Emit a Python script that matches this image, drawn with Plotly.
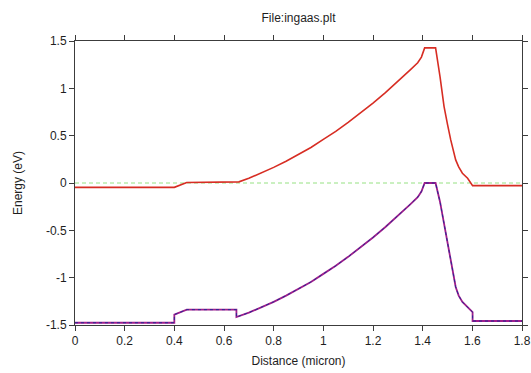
import plotly.graph_objects as go

# Conduction band (red)
cb_x = [0.0, 0.40, 0.45, 0.65, 0.66, 0.70, 0.75, 0.80, 0.85, 0.90, 0.95, 1.00, 1.05, 1.10, 1.15, 1.20, 1.25, 1.30, 1.35, 1.38, 1.395, 1.408,
        1.452, 1.470, 1.486, 1.500, 1.513, 1.533, 1.545, 1.560, 1.581, 1.601, 1.8]
cb_y = [-0.046, -0.046, 0.006, 0.006, 0.012, 0.05, 0.105, 0.165, 0.23, 0.30, 0.375, 0.46, 0.545, 0.64, 0.74, 0.845, 0.955, 1.07, 1.195, 1.27, 1.33, 1.427,
        1.427, 1.12, 0.81, 0.62, 0.455, 0.244, 0.17, 0.103, 0.05, -0.028, -0.028]

# Valence band (purple solid + blue dashed overlay)
vb_x = [0.0, 0.40, 0.40, 0.45, 0.65, 0.65, 0.70, 0.75, 0.80, 0.85, 0.90, 0.95, 1.00, 1.05, 1.10, 1.15, 1.20, 1.25, 1.30, 1.35, 1.38, 1.395, 1.408,
        1.452, 1.470, 1.486, 1.500, 1.513, 1.533, 1.545, 1.560, 1.587, 1.601, 1.601, 1.8]
vb_y = [-1.476, -1.476, -1.39, -1.338, -1.338, -1.416, -1.37, -1.315, -1.255, -1.19, -1.12, -1.045, -0.96, -0.875, -0.78, -0.68, -0.575, -0.465, -0.35, -0.225, -0.15, -0.09, 0.0,
        0.0, -0.2, -0.427, -0.65, -0.85, -1.098, -1.19, -1.257, -1.328, -1.363, -1.458, -1.458]

# Fermi level (green dashed)
ef_x = [0.0, 1.8]
ef_y = [0.0, 0.0]

x_tickvals = [0, 0.2, 0.4, 0.6, 0.8, 1.0, 1.2, 1.4, 1.6, 1.8]
x_ticktext = ["0", "0.2", "0.4", "0.6", "0.8", "1", "1.2", "1.4", "1.6", "1.8"]
y_tickvals = [-1.5, -1.0, -0.5, 0, 0.5, 1.0, 1.5]
y_ticktext = ["-1.5", "-1", "-0.5", "0", "0.5", "1", "1.5"]

fig = go.Figure()
fig.add_trace(go.Scatter(x=ef_x, y=ef_y, mode="lines",
                         line=dict(color="rgb(150,225,130)", width=1, dash="4px,3px"),
                         showlegend=False))
fig.add_trace(go.Scatter(x=cb_x, y=cb_y, mode="lines",
                         line=dict(color="rgb(215,45,35)", width=1.6),
                         showlegend=False))
fig.add_trace(go.Scatter(x=vb_x, y=vb_y, mode="lines",
                         line=dict(color="rgb(160,30,140)", width=1.8),
                         showlegend=False))
fig.add_trace(go.Scatter(x=vb_x, y=vb_y, mode="lines",
                         line=dict(color="rgb(40,40,150)", width=1, dash="3px,3px"),
                         showlegend=False))

axis_common = dict(
    showline=True, linecolor="rgb(60,60,60)", linewidth=1,
    mirror="ticks", ticks="outside", ticklen=5, tickcolor="rgb(60,60,60)",
    showgrid=False, zeroline=False, automargin=False,
    tickfont=dict(family="Liberation Sans, Arial, sans-serif", size=12, color="rgb(30,30,30)"),
)

fig.update_layout(
    width=531, height=373,
    margin=dict(l=75, r=9, t=41, b=48),
    paper_bgcolor="white", plot_bgcolor="white",
    font=dict(family="Liberation Sans, Arial, sans-serif", size=12, color="rgb(30,30,30)"),
    title=dict(text="File:ingaas.plt", x=(75 + 0.5 * (531 - 75 - 9)) / 531, xanchor="center",
               y=1 - 18 / 373, yanchor="middle",
               font=dict(size=12)),
    xaxis=dict(range=[0, 1.8], tickvals=x_tickvals, ticktext=x_ticktext,
               title=dict(text="Distance (micron)", standoff=9, font=dict(size=12)),
               **axis_common),
    yaxis=dict(range=[-1.5, 1.5], tickvals=y_tickvals, ticktext=y_ticktext,
               title=dict(text="Energy (eV)", standoff=20, font=dict(size=12)),
               **axis_common),
)

fig.write_html("out.html")
